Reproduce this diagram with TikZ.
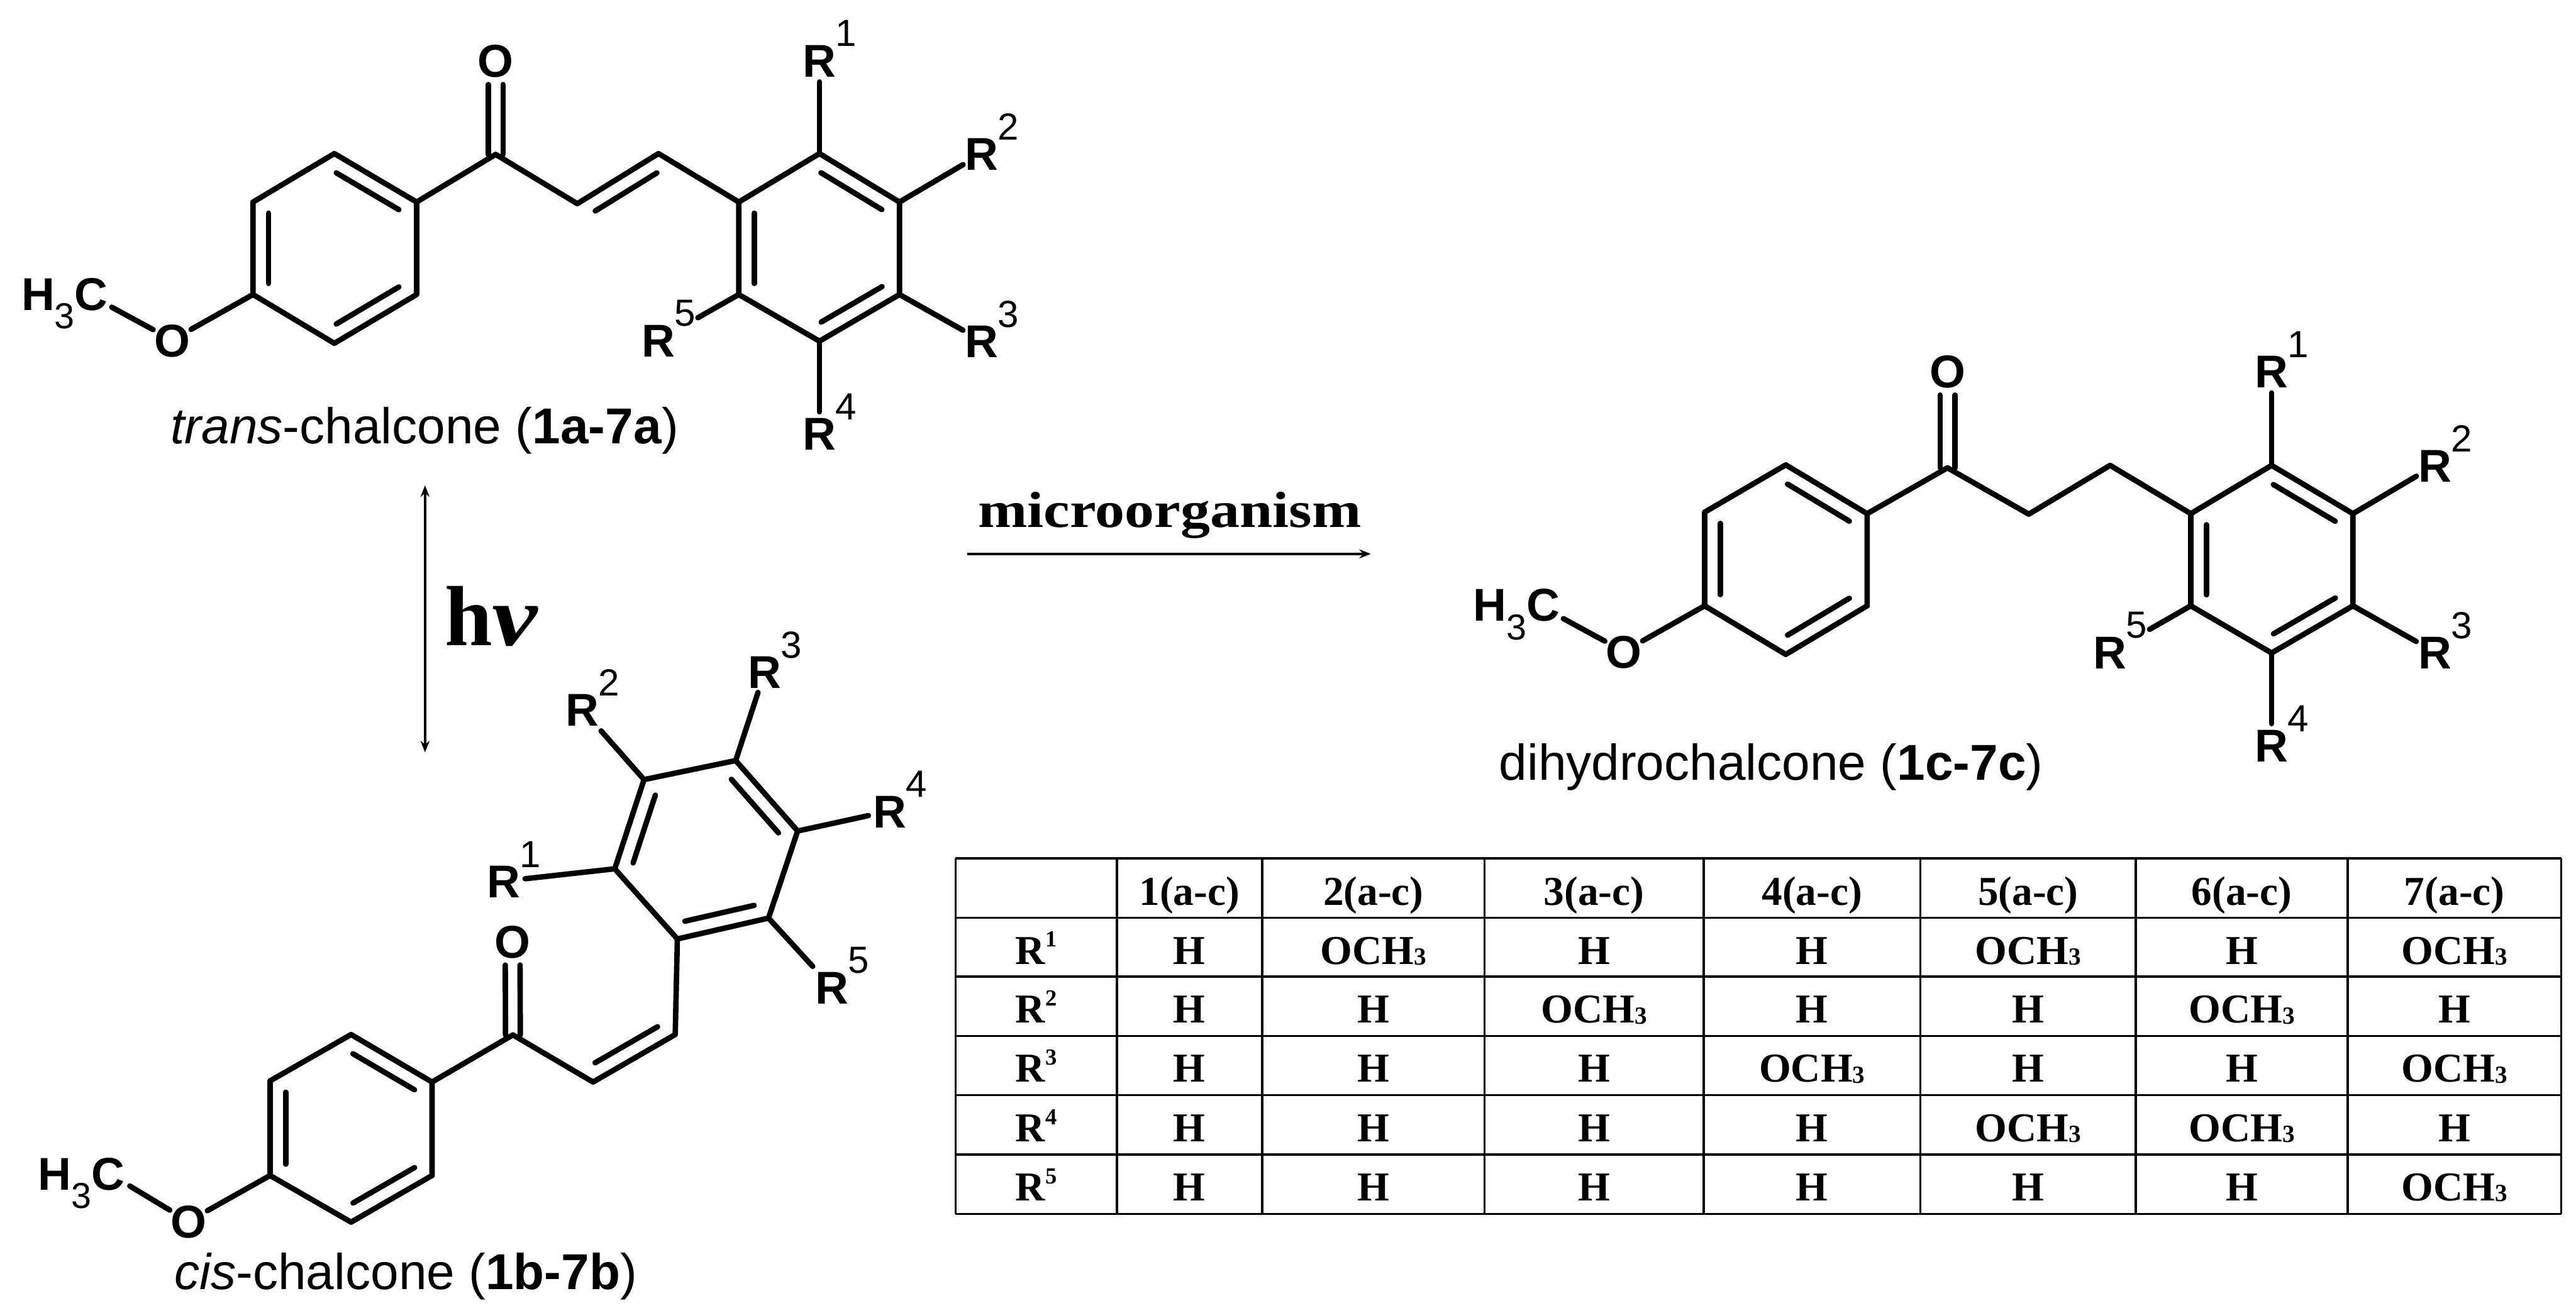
\documentclass[tikz,border=0pt]{standalone}
\usepackage{fontspec}
\setmainfont{Liberation Serif}
\setsansfont{Liberation Sans}
\usetikzlibrary{calc,arrows.meta}
\tikzset{
  bond/.style={line width=3.3pt,line cap=round,line join=round,black},
  thin arrow/.style={line width=1.5pt,black,-{Stealth[length=7pt,width=5.5pt]}},
  grid line/.style={line width=1.3pt,black},
  atomlabel/.style={shape=circle,inner sep=0pt,minimum size=26pt,font=\sffamily\bfseries\fontsize{28}{28}\selectfont},
  supnum/.style={inner sep=0pt,font=\sffamily\fontsize{23}{23}\selectfont},
  methyl/.style={anchor=base,inner sep=0pt,font=\sffamily\bfseries\fontsize{28}{28}\selectfont},
  capt/.style={anchor=base,inner sep=0pt,font=\sffamily\fontsize{30.7}{31}\selectfont},
  cellt/.style={anchor=base,inner sep=0pt,font=\bfseries\fontsize{25}{25}\selectfont},
}
\newcommand{\atomtext}[1]{\makebox[0pt]{\raisebox{-.36em}[0pt][0pt]{#1}}}
\newcommand{\Rsub}[3]{\node[atomlabel] (#1) at #2 {\atomtext{R}};\node[supnum] (#1s) at ($(#1)+(16.2,-16.3)$) {#3};}
\newcommand{\innerb}[2]{\draw[bond] ($(#1)!.12!(#2)!9.5pt!-90:(#2)$) -- ($(#2)!.12!(#1)!9.5pt!90:(#1)$);}
\newcommand{\carbonyl}[2]{%
  \draw[bond,shorten >=14.5pt] ($(#1)!4.5pt!90:(#2)$) -- ($(#2)!4.5pt!-90:(#1)$);
  \draw[bond,shorten >=14.5pt] ($(#1)!4.5pt!-90:(#2)$) -- ($(#2)!4.5pt!90:(#1)$);}
\newcommand{\methylH}{H\raisebox{-.4em}{\fontsize{22}{22}\selectfont\mdseries 3}C}
\newcommand{\ochm}{OCH\raisebox{-.02em}{\fontsize{15}{15}\selectfont 3}}
\newcommand{\Rtab}[1]{R\raisebox{.42em}{\fontsize{14}{14}\selectfont #1}}
% #1 prefix, #2 extra gap at R5, #3 extra gap at R2
\newcommand{\molecule}[3]{%
  \draw[bond] (#1a1) -- (#1a2) -- (#1a3) -- (#1a4) -- (#1a5) -- (#1a6) -- cycle;
  \draw[bond] (#1a2) -- (#1co) -- (#1v1) -- (#1v2) -- (#1b1);
  \draw[bond] (#1b1) -- (#1b2) -- (#1b3) -- (#1b4) -- (#1b5) -- (#1b6) -- cycle;
  \innerb{#1a1}{#1a2}\innerb{#1a3}{#1a4}\innerb{#1a5}{#1a6}
  \innerb{#1b2}{#1b3}\innerb{#1b4}{#1b5}\innerb{#1b6}{#1b1}
  \carbonyl{#1co}{#1Ok}
  \draw[bond] (#1a5) -- (#1Om);
  \draw[bond] (#1MeC) -- (#1Om);
  \draw[bond] (#1b2) -- (#1R1);
  \draw[bond,shorten >=#3] (#1b3) -- (#1R2);
  \draw[bond] (#1b4) -- (#1R3);
  \draw[bond] (#1b5) -- (#1R4);
  \draw[bond,shorten >=#2] (#1b6) -- (#1R5);}
\begin{document}
\begin{tikzpicture}[x=1pt,y=-1pt]
\useasboundingbox (0,0) rectangle (1568,799);
\fill[white] (0,0) rectangle (1568,799);

% ---------- trans-chalcone
\coordinate (ta1) at (203.5,93.5);
\coordinate (ta2) at (253.6,123);
\coordinate (ta3) at (253.6,179.3);
\coordinate (ta4) at (203.5,209);
\coordinate (ta5) at (154,179.3);
\coordinate (ta6) at (154,123);
\coordinate (tco) at (301.7,94);
\coordinate (tv1) at (351.4,124);
\coordinate (tv2) at (400.8,93.5);
\coordinate (tb1) at (449.7,123);
\coordinate (tb2) at (498.8,93.5);
\coordinate (tb3) at (547.5,123);
\coordinate (tb4) at (547.5,179.3);
\coordinate (tb5) at (498.8,207.7);
\coordinate (tb6) at (449.7,179.3);
\coordinate (tMeC) at (68,187);
\node[atomlabel] (tOk) at (301.7,37) {\atomtext{O}};
\node[atomlabel] (tOm) at (104.8,207) {\atomtext{O}};
\node[methyl] (tMe) at (39.4,188.8) {\methylH};
\Rsub{tR1}{(498.8,36.7)}{1}
\Rsub{tR2}{(597.6,93.5)}{2}
\Rsub{tR3}{(597.6,207.5)}{3}
\Rsub{tR4}{(498.8,263.9)}{4}
\Rsub{tR5}{(400.7,207.1)}{5}
\molecule{t}{14.5pt}{0pt}
\innerb{tv1}{tv2}
\node[capt] (tcap) at (258.5,270) {\textit{trans}-chalcone (\textbf{1a-7a})};

% ---------- cis-chalcone
\coordinate (ca1) at (213.7,629.8);
\coordinate (ca2) at (263,658.7);
\coordinate (ca3) at (263,715.6);
\coordinate (ca4) at (213.7,744);
\coordinate (ca5) at (164.4,715.6);
\coordinate (ca6) at (164.4,658);
\coordinate (cco) at (312.2,630);
\coordinate (cv1) at (361,658.7);
\coordinate (cv2) at (411,629.8);
\coordinate (cb1) at (412.3,571.6);
\coordinate (cb2) at (374.2,528.9);
\coordinate (cb3) at (392,474.6);
\coordinate (cb4) at (447.8,463);
\coordinate (cb5) at (485.5,505.9);
\coordinate (cb6) at (467.8,558.9);
\coordinate (cMeC) at (79,722);
\node[atomlabel] (cOk) at (312,573) {\atomtext{O}};
\node[atomlabel] (cOm) at (114.7,743.5) {\atomtext{O}};
\node[methyl] (cMe) at (49.5,724.5) {\methylH};
\Rsub{cR1}{(306.5,536.4)}{1}
\Rsub{cR2}{(354.5,432)}{2}
\Rsub{cR3}{(465.5,409)}{3}
\Rsub{cR4}{(541.5,493.7)}{4}
\Rsub{cR5}{(506.3,601)}{5}
\molecule{c}{4pt}{4pt}
\innerb{cv2}{cv1}
\node[capt] (ccap) at (247,785) {\textit{cis}-chalcone (\textbf{1b-7b})};

% ---------- dihydrochalcone
\coordinate (da1) at (1087,283);
\coordinate (da2) at (1136.5,312.7);
\coordinate (da3) at (1136.5,368.8);
\coordinate (da4) at (1087,398.4);
\coordinate (da5) at (1037.6,368.8);
\coordinate (da6) at (1037.6,311.8);
\coordinate (dco) at (1185.4,284.8);
\coordinate (dv1) at (1234.9,313);
\coordinate (dv2) at (1284.4,283.3);
\coordinate (db1) at (1333.5,312.7);
\coordinate (db2) at (1382.7,283.3);
\coordinate (db3) at (1432.2,312.7);
\coordinate (db4) at (1432.2,368.8);
\coordinate (db5) at (1382.7,397.5);
\coordinate (db6) at (1333.5,368.8);
\coordinate (dMeC) at (951.6,376.6);
\node[atomlabel] (dOk) at (1185.4,226) {\atomtext{O}};
\node[atomlabel] (dOm) at (988.4,396.6) {\atomtext{O}};
\node[methyl] (dMe) at (923,378.2) {\methylH};
\Rsub{dR1}{(1382.7,226)}{1}
\Rsub{dR2}{(1482.2,283.2)}{2}
\Rsub{dR3}{(1482.2,397)}{3}
\Rsub{dR4}{(1382.7,453.7)}{4}
\Rsub{dR5}{(1284.4,396.9)}{5}
\molecule{d}{14.5pt}{0pt}
\node[capt] (dcap) at (1078,474.8) {dihydrochalcone (\textbf{1c-7c})};

% ---------- arrows and their labels
\coordinate (hvtop) at (258.7,295.5);
\coordinate (hvbot) at (258.7,458);
\draw[thin arrow,{Stealth[length=7pt,width=5.5pt]}-{Stealth[length=7pt,width=5.5pt]}] (hvtop) -- (hvbot);
\node[anchor=base west,inner sep=0pt,font=\bfseries\fontsize{52}{52}\selectfont] (hv) at (270.5,393) {h\scalebox{1.2}[1]{\textit{ν}}};
\coordinate (mstart) at (588.9,337.2);
\coordinate (mend) at (834.4,337.2);
\draw[thin arrow] (mstart) -- (mend);
\node[anchor=base,inner sep=0pt,font=\bfseries\fontsize{31}{31}\selectfont] (micro) at (712,321) {\scalebox{1.16}[1]{microorganism}};

% ---------- table
\foreach \x in {581.6,679.8,768.3,903.6,1037,1169,1300,1429,1559}
  \draw[grid line] (\x,522.6) -- (\x,738.9);
\foreach \y in {522.6,558.8,594.5,630.7,666.6,702.8,738.9}
  \draw[grid line] (581.6,\y) -- (1559,\y);
\foreach \x/\t [count=\i] in {724/1(a-c),836/2(a-c),970.3/3(a-c),1103/4(a-c),1234.5/5(a-c),1364.5/6(a-c),1494/7(a-c)}
  \node[cellt] (head\i) at (\x,551) {\t};
\foreach \y [count=\r] in {587,622.8,658.8,695,731}
  \node[cellt] (rowR\r) at (630.7,\y) {\Rtab{\r}};
\foreach \r/\y/\a/\b/\c/\d/\e/\f/\g in {
  1/587/H/\ochm/H/H/\ochm/H/\ochm,
  2/622.8/H/H/\ochm/H/H/\ochm/H,
  3/658.8/H/H/H/\ochm/H/H/\ochm,
  4/695/H/H/H/H/\ochm/\ochm/H,
  5/731/H/H/H/H/H/H/\ochm}{
  \node[cellt] (z\r x1) at (724,\y) {\a};
  \node[cellt] (z\r x2) at (836,\y) {\b};
  \node[cellt] (z\r x3) at (970.3,\y) {\c};
  \node[cellt] (z\r x4) at (1103,\y) {\d};
  \node[cellt] (z\r x5) at (1234.5,\y) {\e};
  \node[cellt] (z\r x6) at (1364.5,\y) {\f};
  \node[cellt] (z\r x7) at (1494,\y) {\g};
}
\end{tikzpicture}
\end{document}
